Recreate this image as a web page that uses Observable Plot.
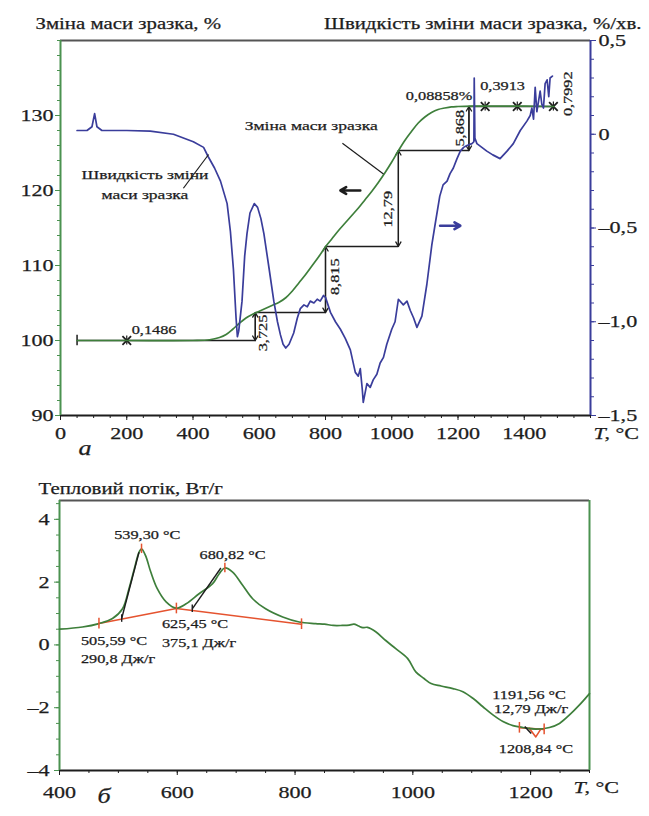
<!DOCTYPE html>
<html><head><meta charset="utf-8">
<script src="https://cdn.jsdelivr.net/npm/d3@7"></script>
<script src="https://cdn.jsdelivr.net/npm/@observablehq/plot@0.6"></script>
<style>
body{margin:0;background:#fff}
#chart{width:649px;height:816px;overflow:hidden}
#chart svg{display:block}
#chart text{stroke:#1d1d1d;stroke-width:0.25px}
</style>
</head><body><div id="chart"></div>
<script>
// ---------- DATA: panel a (TG / DTG) ----------
const rateT = [50,80,95,103,110,125,200,271,341,401,432,446,465,483,503,513,522,530,534,538,548,556,563,572,585,595,605,614,630,644,655,664,672,680,690,704,715,724,735,745,754,765,775,784,794,800,815,830,845,860,875,890,899,905,911,914,925,935,944,955,965,975,985,1000,1010,1020,1035,1046,1056,1066,1076,1091,1106,1121,1131,1145,1155,1167,1176,1186,1197,1207,1217,1227,1242,1248,1249,1251,1257,1272,1287,1305,1327,1348,1367,1388,1408,1418,1423,1428,1433,1438,1448,1453,1458,1463,1469,1474,1478,1485];
const rateV = [0.02,0.02,0.04,0.11,0.04,0.02,0.02,0.017,0.0,-0.04,-0.07,-0.12,-0.18,-0.25,-0.37,-0.52,-0.72,-0.98,-1.08,-1.05,-0.89,-0.65,-0.53,-0.42,-0.37,-0.39,-0.45,-0.53,-0.72,-0.89,-1.0,-1.07,-1.12,-1.14,-1.12,-1.06,-0.98,-0.93,-0.91,-0.92,-0.89,-0.90,-0.88,-0.89,-0.86,-0.87,-0.95,-1.0,-1.04,-1.09,-1.15,-1.27,-1.29,-1.25,-1.36,-1.43,-1.33,-1.35,-1.31,-1.28,-1.22,-1.19,-1.12,-1.04,-1.0,-0.88,-0.91,-0.89,-0.94,-0.98,-1.03,-0.97,-0.80,-0.59,-0.48,-0.33,-0.27,-0.25,-0.21,-0.18,-0.13,-0.09,-0.07,-0.06,-0.05,-0.04,0.30,-0.02,-0.05,-0.07,-0.09,-0.11,-0.13,-0.09,-0.05,0.02,0.07,0.10,0.14,0.08,0.25,0.12,0.23,0.16,0.14,0.27,0.29,0.20,0.30,0.31];
const massT = [50,200,400,450,480,500,520,540,560,580,600,620,640,660,680,700,720,740,760,780,800,820,840,860,880,900,920,940,960,980,1000,1020,1040,1060,1080,1100,1120,1140,1160,1180,1200,1240,1300,1400,1490];
const massV = [100.0,100.0,100.0,100.1,100.4,100.8,101.5,102.3,103.0,103.5,103.9,104.3,104.7,105.1,105.7,106.6,107.7,108.8,110.0,111.2,112.5,113.6,114.7,115.7,116.7,117.7,118.8,119.9,121.1,122.4,123.8,125.3,126.7,127.9,129.0,129.8,130.4,130.8,131.0,131.15,131.2,131.25,131.25,131.25,131.2];
// mass-loss steps (%), temperatures of the step lines and their label places
const stepValues = [3.725, 8.815, 12.79, 5.868];
const stepT = [588, 800, 1020, 1233];
const stepLabelT = [612, 830, 988, 1207];
const stepLabelY = [101.0, 108.5, 117.5, 128.3];
const crossT = [200, 1282, 1379, 1488];
const crossLevel = [0, 4, 4, 4];
const notes = ["0,1486", "0,08858%", "0,3913", "0,7992"];
const noteT = [215, 1243, 1267, 1533];
const noteY = [101.4, 132.6, 134.0, 132.9];
const noteAnchor = ["start", "end", "start", "middle"];
const noteRotate = [0, 0, 0, -90];
// axis ticks
const aXTicks = [0,200,400,600,800,1000,1200,1400];
const aXLabels = ["0","200","400","600","800","1000","1200","1400"];
const aLeftTicks = [90,100,110,120,130];
const aLeftLabels = ["90","100","110","120","130"];
const aRightTicks = [0.5,0,-0.5,-1.0,-1.5];
const aRightLabels = ["0,5","0","–0,5","–1,0","–1,5"];

// ---------- DATA: panel б (DSC) ----------
const dscT = [400,439,467,490,507,518,527,535,539.3,546,555,566,581,598,615,637,660,671,680.8,694,711,728,750,779,807,835,850,865,880,892,900,908,915,923,937,954,971,991,1005,1019,1031,1048,1068,1085,1102,1119,1136,1153,1170,1187,1209,1232,1249,1266,1283,1300];
const dscV = [0.50,0.57,0.68,0.84,1.15,1.79,2.42,2.95,3.06,2.85,2.32,1.79,1.37,1.17,1.31,1.63,1.95,2.26,2.45,2.32,1.90,1.47,1.15,0.89,0.73,0.68,0.66,0.62,0.62,0.63,0.66,0.60,0.55,0.56,0.42,0.14,-0.12,-0.43,-0.86,-1.07,-1.23,-1.31,-1.39,-1.49,-1.70,-1.97,-2.23,-2.44,-2.57,-2.63,-2.68,-2.63,-2.50,-2.23,-1.91,-1.55];
const baseT = [467, 598.5, 811];
const baseV = [0.68, 1.16, 0.66];
const peakT = [539.3, 680.82];
const peakV = [3.06, 2.45];
const tangentT1 = [505.59, 625.45], tangentV1 = [0.84, 1.15];
const tangentT2 = [535, 674], tangentV2 = [2.95, 2.45];
const smallBaseT = [1181, 1223], smallBaseV = [-2.64, -2.69];
const smallDipT = [1198, 1208.84, 1217], smallDipV = [-2.66, -2.93, -2.69];
const smallTanT = [1190, 1201], smallTanV = [-2.60, -2.82];
const dscLabels = ["539,30 °C", "680,82 °C", "625,45 °C", "375,1 Дж/г", "505,59 °C", "290,8 Дж/г", "1191,56 °C", "12,79 Дж/г", "1208,84 °C"];
const dscLabelT = [549, 694, 574, 574, 436.5, 436.5, 1135, 1138, 1209];
const dscLabelV = [3.49, 2.86, 0.66, 0.05, 0.12, -0.45, -1.58, -2.03, -3.33];
const dscLabelAnchor = ["middle","middle","start","start","start","start","start","start","middle"];
const bXTicks = [400,600,800,1000,1200];
const bXLabels = ["400","600","800","1000","1200"];
const bYTicks = [4,2,0,-2,-4];
const bYLabels = ["4","2","0","–2","–4"];

// ---------- STYLE ----------
const FONT = "'Liberation Serif','Times New Roman',serif";
const green = "#3e7f3b", axisGreen = "#4b9250", blue = "#3a3d9b", red = "#e5532f", ink = "#1d1d1d", frameGray = "#555";

// right-axis (rate, %/min) values placed on the left (mass, %) scale
const tr = v => 90 + (v + 1.5) * 25;

const rate = rateT.map((t, i) => ({t, v: tr(rateV[i])}));
const mass = massT.map((t, i) => ({t, m: massV[i]}));
const levels = [100];
stepValues.forEach(s => levels.push(levels[levels.length - 1] + s));
const segStart = [50, ...stepT], segEnd = [...stepT, 1490];
const hSegs = levels.map((l, i) => ({x1: segStart[i], x2: segEnd[i], y: l}));
const vSegs = stepT.map((t, i) => ({x: t, y1: levels[i], y2: levels[i + 1], label: String(stepValues[i]).replace(".", ","), lx: stepLabelT[i], ly: stepLabelY[i]}));
const crosses = crossT.map((t, i) => ({t, y: levels[crossLevel[i]]}));
const noteData = notes.map((s, i) => ({s, t: noteT[i], y: noteY[i], a: noteAnchor[i], r: noteRotate[i]}));

const leftMap = new Map(aLeftTicks.map((d, i) => [d, aLeftLabels[i]]));
const rightMap = new Map(aRightTicks.map((d, i) => [tr(d), aRightLabels[i]]));
const xMapA = new Map(aXTicks.map((d, i) => [d, aXLabels[i]]));

const plotA = Plot.plot({
  width: 649, height: 460,
  marginTop: 40, marginBottom: 45, marginLeft: 60, marginRight: 59,
  style: {fontFamily: FONT, fontSize: "17px", color: ink, background: "#fff", overflow: "visible"},
  x: {domain: [0, 1600]},
  y: {domain: [90, 140]},
  marks: [
    // minor ticks
    Plot.axisX({ticks: d3.range(0, 1601, 50), tickSize: 3, tickFormat: () => "", label: null, stroke: ink}),
    Plot.axisY({ticks: d3.range(90, 141, 2), tickSize: 3, tickFormat: () => "", label: null, stroke: axisGreen}),
    Plot.axisY({anchor: "right", ticks: d3.range(-15, 6, 1).map(k => tr(k / 10)), tickSize: 3, tickFormat: () => "", label: null, stroke: blue}),
    // major ticks
    Plot.axisX({ticks: aXTicks, tickSize: 5, tickPadding: 6, tickFormat: d => xMapA.get(d), label: null, stroke: ink, fill: ink}),
    Plot.axisY({ticks: aLeftTicks, tickSize: 5, tickPadding: 2, tickFormat: d => leftMap.get(d), label: null, stroke: axisGreen, fill: ink}),
    Plot.axisY({anchor: "right", ticks: aRightTicks.map(tr), tickSize: 5, tickPadding: 3, tickFormat: d => rightMap.get(d), label: null, stroke: blue, fill: ink}),
    // frame
    Plot.ruleY([140], {stroke: frameGray, strokeWidth: 2}),
    Plot.ruleY([90], {stroke: ink, strokeWidth: 1.8}),
    Plot.ruleX([0], {stroke: axisGreen, strokeWidth: 2}),
    Plot.ruleX([1600], {stroke: blue, strokeWidth: 2}),
    // step construction lines
    Plot.link(hSegs, {x1: "x1", x2: "x2", y1: "y", y2: "y", stroke: ink, strokeWidth: 1.5}),
    Plot.arrow(vSegs, {x1: "x", x2: "x", y1: "y1", y2: "y2", stroke: ink, strokeWidth: 1.3, headLength: 6}),
    Plot.arrow(vSegs, {x1: "x", x2: "x", y1: "y2", y2: "y1", stroke: ink, strokeWidth: 1.3, headLength: 6}),
    Plot.ruleX([{t: 50, y: 100}], {x: "t", y1: d => d.y - 0.7, y2: d => d.y + 0.7, stroke: ink, strokeWidth: 1.5}),
    Plot.dot(crosses, {x: "t", y: "y", symbol: "times", r: 4, stroke: ink, strokeWidth: 1.8}),
    Plot.ruleX(crosses, {x: "t", y1: d => d.y - 0.6, y2: d => d.y + 0.6, stroke: ink, strokeWidth: 1.2}),
    // curves
    Plot.line(mass, {x: "t", y: "m", stroke: green, strokeWidth: 1.7, curve: "catmull-rom"}),
    Plot.line(rate, {x: "t", y: "v", stroke: blue, strokeWidth: 1.7}),
    // step labels
    Plot.text(vSegs, {x: "lx", y: "ly", text: "label", rotate: -90, fontSize: 12.5, fill: ink}),
    Plot.text(noteData.filter(d => d.r === 0 && d.a === "start"), {x: "t", y: "y", text: "s", textAnchor: "start", fontSize: 12.5, fill: ink}),
    Plot.text(noteData.filter(d => d.r === 0 && d.a === "end"), {x: "t", y: "y", text: "s", textAnchor: "end", fontSize: 12.5, fill: ink}),
    Plot.text(noteData.filter(d => d.r !== 0), {x: "t", y: "y", text: "s", rotate: -90, fontSize: 12.5, fill: ink}),
    // curve labels + leaders
    Plot.text([{t: 757, y: 128.6, s: "Зміна маси зразка"}], {x: "t", y: "y", text: "s", fontSize: 13.5, fill: ink}),
    Plot.link([{x1: 851, y1: 126.3, x2: 975, y2: 122.2}], {x1: "x1", y1: "y1", x2: "x2", y2: "y2", stroke: ink, strokeWidth: 1.2}),
    Plot.text([{t: 255, y: 122.1, s: "Швидкість зміни"}, {t: 255, y: 119.4, s: "маси зразка"}], {x: "t", y: "y", text: "s", fontSize: 13.5, fill: ink}),
    Plot.link([{x1: 371, y1: 120.3, x2: 447, y2: 124.8}], {x1: "x1", y1: "y1", x2: "x2", y2: "y2", stroke: ink, strokeWidth: 1.2}),
    // direction arrows
    Plot.arrow([{x1: 905, x2: 845, y: 120}], {x1: "x1", x2: "x2", y1: "y", y2: "y", stroke: ink, strokeWidth: 2.6, headLength: 7}),
    Plot.arrow([{x1: 1146, x2: 1207, y: 115.3}], {x1: "x1", x2: "x2", y1: "y", y2: "y", stroke: blue, strokeWidth: 2.6, headLength: 7}),
    // axis titles
    Plot.text(["Зміна маси зразка, %"], {frameAnchor: "top-left", dx: -25, dy: -23, textAnchor: "start", fontSize: 16, fill: ink}),
    Plot.text(["Швидкість зміни маси зразка, %/хв."], {frameAnchor: "top-right", dx: 51, dy: -23, textAnchor: "end", fontSize: 16, fill: ink}),
    Plot.text(["T"], {frameAnchor: "bottom-right", dx: 3, dy: 23, textAnchor: "start", fontSize: 17, fontStyle: "italic", fill: ink}),
    Plot.text([", °C"], {frameAnchor: "bottom-right", dx: 14, dy: 23, textAnchor: "start", fontSize: 17, fill: ink}),
    Plot.text(["a"], {frameAnchor: "bottom-left", dx: 18, dy: 39, fontSize: 20, fontStyle: "italic", fill: ink})
  ]
});

// ---------- panel б ----------
const dsc = dscT.map((t, i) => ({t, v: dscV[i]}));
const base = baseT.map((t, i) => ({t, v: baseV[i]}));
const baseMarks = [...base, ...smallBaseT.map((t, i) => ({t, v: smallBaseV[i]}))];
const peaks = peakT.map((t, i) => ({t, v: peakV[i]}));
const tangents = tangentT1.map((t, i) => ({x1: t, y1: tangentV1[i], x2: tangentT2[i], y2: tangentV2[i]}));
const dLabels = dscLabels.map((s, i) => ({s, t: dscLabelT[i], v: dscLabelV[i], a: dscLabelAnchor[i]}));
const yMapB = new Map(bYTicks.map((d, i) => [d, bYLabels[i]]));
const xMapB = new Map(bXTicks.map((d, i) => [d, bXLabels[i]]));

const plotB = Plot.plot({
  width: 649, height: 356,
  marginTop: 40, marginBottom: 46, marginLeft: 59, marginRight: 60,
  style: {fontFamily: FONT, fontSize: "17px", color: ink, background: "#fff", overflow: "visible"},
  x: {domain: [400, 1300]},
  y: {domain: [-4, 4.6]},
  marks: [
    Plot.axisX({ticks: d3.range(400, 1301, 50), tickSize: 3, tickFormat: () => "", label: null, stroke: ink}),
    Plot.axisY({ticks: d3.range(-4, 4.6, 0.5), tickSize: 3, tickFormat: () => "", label: null, stroke: axisGreen}),
    Plot.axisX({ticks: bXTicks, tickSize: 5, tickPadding: 10, tickFormat: d => xMapB.get(d), label: null, stroke: ink, fill: ink}),
    Plot.axisY({ticks: bYTicks, tickSize: 5, tickPadding: 5, tickFormat: d => yMapB.get(d), label: null, stroke: axisGreen, fill: ink}),
    Plot.ruleY([4.6], {stroke: frameGray, strokeWidth: 2}),
    Plot.ruleY([-4], {stroke: ink, strokeWidth: 1.8}),
    Plot.ruleX([400], {stroke: axisGreen, strokeWidth: 2}),
    Plot.ruleX([1300], {stroke: axisGreen, strokeWidth: 2}),
    // baselines & construction
    Plot.line(base, {x: "t", y: "v", stroke: red, strokeWidth: 1.6}),
    Plot.line(smallBaseT.map((t, i) => ({t, v: smallBaseV[i]})), {x: "t", y: "v", stroke: red, strokeWidth: 1.6}),
    Plot.line(smallDipT.map((t, i) => ({t, v: smallDipV[i]})), {x: "t", y: "v", stroke: red, strokeWidth: 1.6}),
    Plot.line(dsc, {x: "t", y: "v", stroke: green, strokeWidth: 1.7, curve: "catmull-rom"}),
    Plot.link(tangents, {x1: "x1", y1: "y1", x2: "x2", y2: "y2", stroke: ink, strokeWidth: 1.4}),
    Plot.link([{x1: smallTanT[0], y1: smallTanV[0], x2: smallTanT[1], y2: smallTanV[1]}], {x1: "x1", y1: "y1", x2: "x2", y2: "y2", stroke: ink, strokeWidth: 1.6}),
    Plot.ruleX(tangents, {x: "x1", y1: d => d.y1 - 0.12, y2: d => d.y1 + 0.12, stroke: ink, strokeWidth: 1.4}),
    Plot.ruleX(baseMarks, {x: "t", y1: d => d.v - 0.17, y2: d => d.v + 0.17, stroke: red, strokeWidth: 1.5}),
    Plot.ruleX(peaks, {x: "t", y1: d => d.v - 0.15, y2: d => d.v + 0.15, stroke: red, strokeWidth: 1.5}),
    Plot.text(dLabels.filter(d => d.a === "start"), {x: "t", y: "v", text: "s", textAnchor: "start", fontSize: 12.5, fill: ink}),
    Plot.text(dLabels.filter(d => d.a === "middle"), {x: "t", y: "v", text: "s", textAnchor: "middle", fontSize: 12.5, fill: ink}),
    // titles
    Plot.text(["Тепловий потік, Вт/г"], {frameAnchor: "top-left", dx: -21, dy: -18, textAnchor: "start", fontSize: 16, fill: ink}),
    Plot.text(["T"], {frameAnchor: "bottom-right", dx: -16, dy: 22, textAnchor: "start", fontSize: 17, fontStyle: "italic", fill: ink}),
    Plot.text([", °C"], {frameAnchor: "bottom-right", dx: -5, dy: 22, textAnchor: "start", fontSize: 17, fill: ink}),
    Plot.text(["б"], {frameAnchor: "bottom-left", dx: 38, dy: 32, fontSize: 20, fontStyle: "italic", fill: ink})
  ]
});

const host = document.getElementById("chart");
host.append(plotA, plotB);

// the reference figure's lettering is horizontally wide: widen each text run
function widen(svg, f) {
  svg.querySelectorAll("text").forEach(t => {
    const spans = t.querySelectorAll("tspan");
    const els = spans.length ? Array.from(spans) : [t];
    els.forEach(e => {
      const L = e.getComputedTextLength();
      if (L > 0) { e.setAttribute("textLength", (L * f).toFixed(1)); e.setAttribute("lengthAdjust", "spacingAndGlyphs"); }
    });
  });
}
widen(plotA, 1.3);
widen(plotB, 1.3);
</script>
</body></html>
